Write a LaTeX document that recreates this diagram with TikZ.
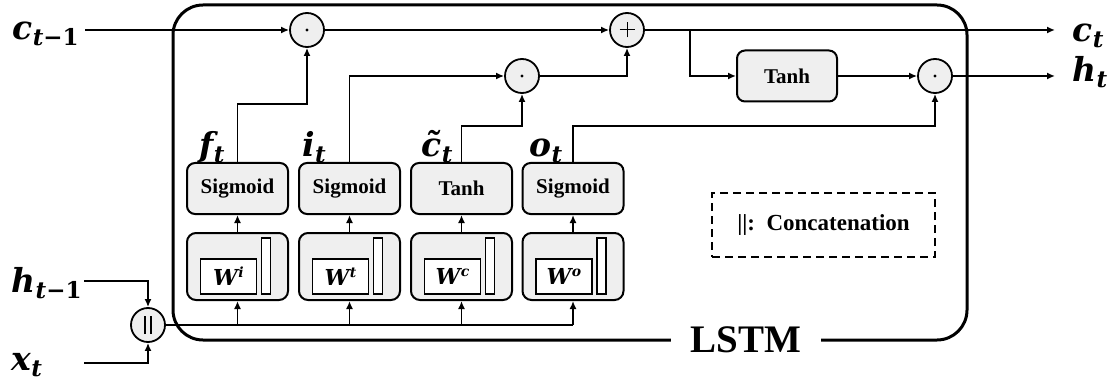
\documentclass[tikz,border=0pt]{standalone}
\usepackage{amsmath}
\usepackage[no-math]{fontspec}
\setmainfont{Liberation Serif}
\newfontfamily\vf{DejaVu Serif}
\usetikzlibrary{arrows.meta}
\definecolor{boxfill}{HTML}{EFEFEF}
\newcommand{\vlab}[2]{{\vf\bfseries\itshape #1\kern0.5pt\raisebox{-6pt}{\fontsize{23}{23}\selectfont #2}}}
\newcommand{\wlab}[1]{{\vf\bfseries\itshape W\kern0.5pt\raisebox{8pt}{\fontsize{14}{14}\selectfont #1}}}
\begin{document}
\begin{tikzpicture}[x=1pt,y=-1pt,
  ln/.style={line width=1.8pt},
  conn/.style={ln, -{Latex[length=8pt,width=7pt]}},
  op/.style={circle, draw, line width=1.8pt, fill=boxfill, minimum size=34pt, inner sep=0pt},
  dotop/.style={op, path picture={\fill[black] (path picture bounding box.center) circle (1.7pt);}},
  plusop/.style={op, path picture={\draw[black, line width=1pt]
      ([xshift=-7.5pt]path picture bounding box.center) -- ([xshift=7.5pt]path picture bounding box.center)
      ([yshift=-7.5pt]path picture bounding box.center) -- ([yshift=7.5pt]path picture bounding box.center);}},
  catop/.style={op, path picture={\draw[black, line width=1.2pt]
      ([xshift=-3pt,yshift=-9pt]path picture bounding box.center) -- ([xshift=-3pt,yshift=9pt]path picture bounding box.center)
      ([xshift=3pt,yshift=-9pt]path picture bounding box.center) -- ([xshift=3pt,yshift=9pt]path picture bounding box.center);}},
  gatebox/.style={draw, line width=2pt, rounded corners=8pt, fill=boxfill, minimum width=101pt, minimum height=51pt, inner sep=0pt, font=\fontsize{21}{21}\selectfont\bfseries},
  wbox/.style={draw, line width=2pt, rounded corners=9pt, fill=boxfill, minimum width=101pt, minimum height=67pt, inner sep=0pt},
  wrect/.style={draw, line width=1.2pt, fill=white, minimum width=56pt, minimum height=35pt, inner sep=0pt, font=\fontsize{22}{22}\selectfont},
  wbar/.style={draw, line width=1.2pt, fill=white, minimum width=9pt, minimum height=56pt, inner sep=0pt},
  var/.style={inner sep=0pt, font=\fontsize{33}{33}\selectfont}
]
\useasboundingbox (0,0) rectangle (1115,390);
% outer LSTM box
\node[draw, line width=3pt, rounded corners=30pt, minimum width=794pt, minimum height=335pt, inner sep=0pt] (lstm) at (570,172.5) {};
\node[fill=white, inner xsep=20pt, inner ysep=3pt, font=\fontsize{39}{39}\selectfont\bfseries] (lstmlbl) at (746,340) {LSTM};

% gates and weights
\foreach \i/\x/\g/\s in {1/237.5/Sigmoid/i, 2/349.5/Sigmoid/t, 3/461.5/Tanh/c, 4/573/Sigmoid/o} {
  \node[gatebox] (g\i) at (\x,188.5) {\g};
  \node[wbox] (w\i) at (\x,266.5) {};
  \node[wrect] (wr\i) at (\x-9,276.5) {\wlab{\s}};
  \node[wbar] (wb\i) at (\x+28.5,266) {};
  \draw[conn] (w\i) -- (g\i);
}

% operators
\node[dotop] (o1) at (307,30) {};
\node[plusop] (oplus) at (627,30) {};
\node[dotop] (o2) at (522,76) {};
\node[dotop] (o3) at (935,76) {};
\node[gatebox, minimum width=100pt] (tanhtop) at (787,76) {Tanh};
\node[catop] (cat) at (148,325) {};

% legend
\node[draw, line width=2pt, dash pattern=on 8pt off 5pt, minimum width=223pt, minimum height=64pt, font=\fontsize{23}{23}\selectfont\bfseries] (legend) at (823.5,225) {||:\ \ Concatenation};

% external labels
\node[var, anchor=base west] (lcin) at (12,40) {\vlab{c}{t{\upshape −1}}};
\node[var, anchor=base west] (lcout) at (1072,42) {\vlab{c}{t}};
\node[var, anchor=base west] (lhout) at (1072,82) {\vlab{h}{t}};
\node[var, anchor=base west] (lhin) at (11,292) {\vlab{h}{t{\upshape −1}}};
\node[var, anchor=base west] (lxin) at (11,370) {\vlab{x}{t}};
\node[var, anchor=base west] (lf) at (199,157) {\vlab{f}{t}};
\node[var, anchor=base west] (li) at (302,157) {\vlab{i}{t}};
\node[var, anchor=base west] (lc) at (421,157) {\vlab{\~{c}}{t}};
\node[var, anchor=base west] (lo) at (529,157) {\vlab{o}{t}};

% coordinates for free ends
\coordinate (cin) at (85,30);
\coordinate (cout) at (1055,30);
\coordinate (hout) at (1055,76);
\coordinate (br) at (690,30);
\coordinate (hin) at (84,281);
\coordinate (xin) at (84,363);
\coordinate (busend) at (573,325);

% cell state path
\draw[conn] (cin) -- (o1);
\draw[conn] (o1) -- (oplus);
\draw[conn] (oplus) -- (cout);
\draw[conn] (br) |- (tanhtop);
\draw[conn] (tanhtop) -- (o3);
\draw[conn] (o3) -- (hout);

% gate outputs
\draw[conn] (g1.north) -- ++(0,-58) -| (o1.south);
\draw[conn] (g2.north) |- (o2);
\draw[conn] (g3.north) -- ++(0,-36) -| (o2.south);
\draw[conn] (o2) -| (oplus);
\draw[conn] (g4.north) -- ++(0,-36) -| (o3.south);

% inputs
\draw[conn] (hin) -| (cat);
\draw[conn] (xin) -| (cat);
\draw[ln] (cat) -- (busend);
\draw[conn] (w1.south |- busend) -- (w1.south);
\draw[conn] (w2.south |- busend) -- (w2.south);
\draw[conn] (w3.south |- busend) -- (w3.south);
\draw[conn] (busend) -- (w4.south);
\end{tikzpicture}
\end{document}
